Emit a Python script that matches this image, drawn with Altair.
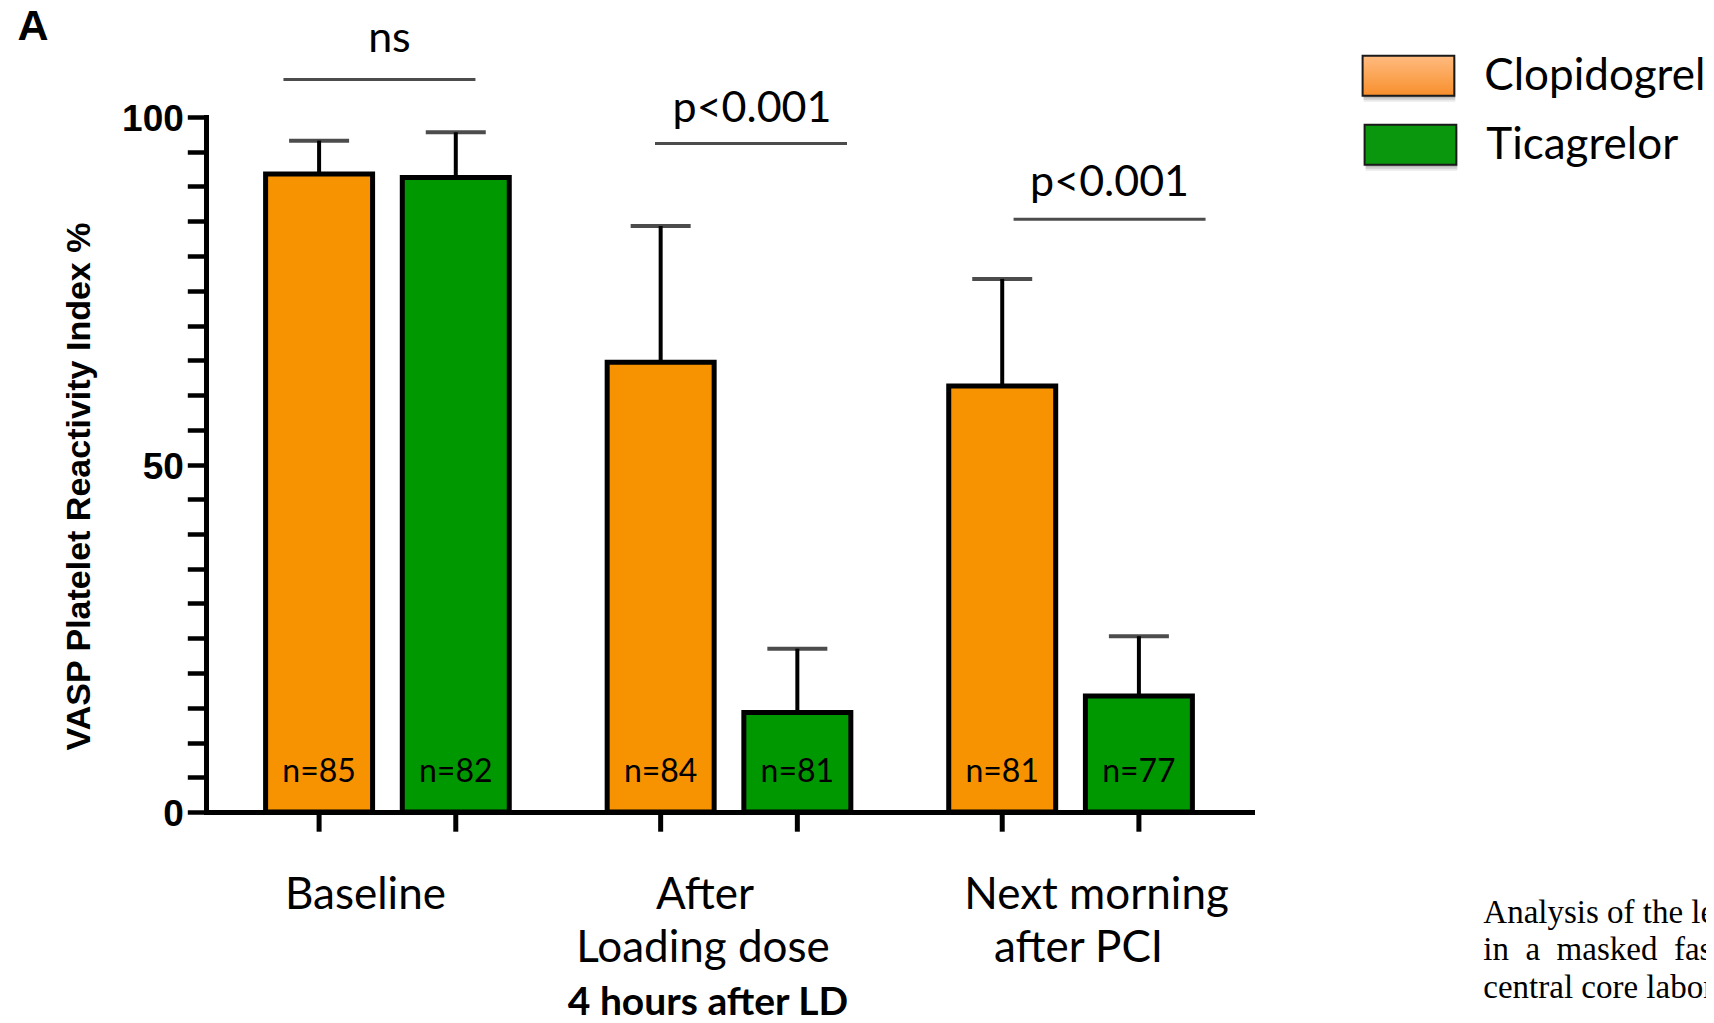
import altair as alt
import pandas as pd

# ---------------- data ----------------
groups = ["Baseline", "After LD", "Next morning"]
drugs = ["Clopidogrel", "Ticagrelor"]
mean_clopi = [91.8, 64.7, 61.3]
mean_tica = [91.3, 14.3, 16.7]
upper_clopi = [96.6, 84.3, 76.7]
upper_tica = [97.8, 23.5, 25.3]
n_clopi = ["n=85", "n=84", "n=81"]
n_tica = ["n=82", "n=81", "n=77"]
sig_labels = ["ns", "p<0.001", "p<0.001"]
sig_line_y = [105.4, 96.2, 85.3]
sig_text_y = [109.4, 99.3, 88.7]
cat_lines = [
    ["Baseline"],
    ["After", "Loading dose", "4 hours after LD"],
    ["Next morning", "after PCI"],
]
y_ticks = list(range(0, 101, 5))
caption_lines = ["Analysis of the levels", "in\u00a0 a\u00a0 masked\u00a0 fashion", "central core laboratory"]

rows = []
for i, g in enumerate(groups):
    rows.append({"group": g, "drug": drugs[0], "mean": mean_clopi[i], "upper": upper_clopi[i], "n": n_clopi[i]})
    rows.append({"group": g, "drug": drugs[1], "mean": mean_tica[i], "upper": upper_tica[i], "n": n_tica[i]})
df = pd.DataFrame(rows)

# ---------------- style ----------------
W, H = 1046, 695
ORANGE = "#F79200"
GREEN = "#009800"
SANS = "Lato"

X = alt.X("group:N", sort=groups,
          scale=alt.Scale(paddingInner=0.2866, paddingOuter=0.1745),
          axis=alt.Axis(title=None, labels=False, ticks=False, domain=True,
                        domainWidth=5, domainColor="black", domainCap="square", grid=False))
XO = alt.XOffset("drug:N", sort=drugs, scale=alt.Scale(paddingInner=0.2173, paddingOuter=0))
yscale = alt.Scale(domain=[0, 100], nice=False)

yaxis = alt.Axis(values=y_ticks,
                 labelExpr="datum.value % 50 == 0 ? datum.label : ''",
                 tickSize=18.7, tickWidth=4.5, tickColor="black",
                 domainWidth=5, domainColor="black", domainCap="square",
                 labelFont="Liberation Sans", labelFontSize=37, labelFontWeight="bold",
                 labelColor="black", labelPadding=4, labelOffset=2.5, grid=False,
                 title="VASP Platelet Reactivity Index %",
                 titleFont="Liberation Sans", titleFontSize=34, titleFontWeight="bold",
                 titleColor="black", titleX=-127, titleY=369, titleAngle=270,
                 titleBaseline="middle")

base = alt.Chart(df)

bars = base.mark_bar(stroke="black", strokeWidth=5).encode(
    x=X, xOffset=XO,
    y=alt.Y("mean:Q", scale=yscale, axis=yaxis),
    color=alt.Color("drug:N", scale=alt.Scale(domain=drugs, range=[ORANGE, GREEN]), legend=None),
)

stems = base.mark_rule(color="black", strokeWidth=4).encode(
    x=X, xOffset=XO,
    y=alt.Y("mean:Q", scale=yscale, axis=yaxis),
    y2="upper:Q",
)

caps = base.mark_tick(color="black", thickness=4, size=60).encode(
    x=X, xOffset=XO,
    y=alt.Y("upper:Q", scale=yscale, axis=yaxis),
)

nlabels = base.mark_text(font=SANS, fontSize=32, baseline="alphabetic", color="black").encode(
    x=X, xOffset=XO, y=alt.value(664.7), text="n:N",
)

xticks = base.mark_rule(color="black", strokeWidth=5).encode(
    x=X, xOffset=XO, y=alt.value(697), y2=alt.value(714.7),
)

layers = [bars, stems, caps, xticks, nlabels]

# significance annotations
sig_dx_line = [-8, 22, 39]
sig_dx_text = [2, 23, 39]
for i, g in enumerate(groups):
    sdf = pd.DataFrame({"group": [g], "ly": [sig_line_y[i]], "ty": [sig_text_y[i]], "lab": [sig_labels[i]]})
    layers.append(alt.Chart(sdf).mark_tick(color="black", thickness=3, size=192, xOffset=sig_dx_line[i]).encode(
        x=X, y=alt.Y("ly:Q", scale=yscale, axis=yaxis)))
    layers.append(alt.Chart(sdf).mark_text(font=SANS, fontSize=43, baseline="alphabetic",
                                            color="black", dx=sig_dx_text[i]).encode(
        x=X, y=alt.Y("ty:Q", scale=yscale, axis=yaxis), text="lab:N"))

# category labels (multi-line)
cat_dx = [[-22], [-24, -26, -21], [26, 8]]
line_base = [792, 845, 897.5]
for i, g in enumerate(groups):
    for j, line in enumerate(cat_lines[i]):
        bold = (i == 1 and j == 2)
        cdf = pd.DataFrame({"group": [g], "t": [line]})
        layers.append(alt.Chart(cdf).mark_text(
            font=SANS, fontSize=(39 if bold else 44), fontWeight=("bold" if bold else "normal"),
            baseline="alphabetic", color="black", dx=cat_dx[i][j]).encode(
            x=X, y=alt.value(line_base[j]), text="t:N"))

# legend
leg_x = [1156.6, 1158.6]
leg_y = [-61.3, 7.7]
leg_fill = [
    alt.LinearGradient(gradient="linear", x1=0, x2=0, y1=0, y2=1,
                       stops=[alt.GradientStop(offset=0, color="#FFBB80"),
                              alt.GradientStop(offset=1, color="#F78F2C")]),
    "#0A970E",
]
for k, d in enumerate(drugs):
    ldf = pd.DataFrame({"t": [d]})
    x0, y0 = leg_x[k], leg_y[k]
    for s, op in [(6, 0.12), (4, 0.18), (2, 0.22)]:
        layers.append(alt.Chart(ldf).mark_rect(color="#555555", opacity=op).encode(
            x=alt.value(x0 + 1), x2=alt.value(x0 + 91.7 + 1), y=alt.value(y0 + s), y2=alt.value(y0 + 40 + s)))
    layers.append(alt.Chart(ldf).mark_rect(color=leg_fill[k], stroke="#1a1a1a", strokeWidth=2).encode(
        x=alt.value(x0), x2=alt.value(x0 + 91.7), y=alt.value(y0), y2=alt.value(y0 + 40)))
    layers.append(alt.Chart(ldf).mark_text(font=SANS, fontSize=44, align="left", baseline="alphabetic",
                                           color="black").encode(
        x=alt.value(x0 + 121.7), y=alt.value(y0 + 34), text="t:N"))

# panel letter
layers.append(alt.Chart(pd.DataFrame({"t": ["A"]})).mark_text(
    font="Liberation Sans", fontSize=43, fontWeight="bold", align="left", baseline="alphabetic",
    color="black").encode(x=alt.value(-188.4), y=alt.value(-76.6), text="t:N"))

# caption
cap_base = [805.7, 842.7, 880.7]
for j, line in enumerate(caption_lines):
    layers.append(alt.Chart(pd.DataFrame({"t": [line]})).mark_text(
        font="Liberation Serif", fontSize=33, align="left", baseline="alphabetic",
        color="black").encode(x=alt.value(1277.3), y=alt.value(cap_base[j]), text="t:N"))

chart = alt.layer(*layers).properties(
    width=W, height=H,
    padding={"left": 198, "top": 109, "right": 454, "bottom": 203},
    autosize=alt.AutoSizeParams(type="none"),
).configure_view(strokeWidth=0)

chart.save("out.html", embed_options={"renderer": "svg", "actions": False})
